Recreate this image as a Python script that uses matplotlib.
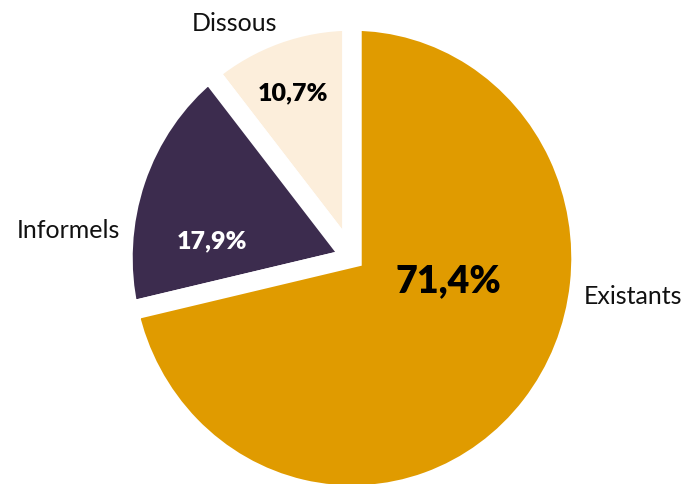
import matplotlib.pyplot as plt

# slices, drawn counter-clockwise from the top
labels = ["Dissous", "Informels", "Existants"]
values = [10.7, 17.9, 71.4]
pct_text = ["10,7%", "17,9%", "71,4%"]
colors = ["#FCEEDB", "#3C2C4E", "#E09B00"]
pct_colors = ["#000000", "#FFFFFF", "#000000"]

plt.rcParams['font.family'] = ['Lato', 'DejaVu Sans']

W, H = 697, 485
fig = plt.figure(figsize=(W / 100, H / 100), dpi=100)
ax = fig.add_axes([0, 0, 1, 1])

ax.pie(values, colors=colors, startangle=90, counterclock=True,
       radius=1.0,
       wedgeprops=dict(edgecolor="white", linewidth=14, joinstyle="miter"))

# pixel layout: pie centre at (352, 259) from top-left,
# the original is a touch taller than wide
cx, cy, ux, uy = 352, 259, 229, 237
ax.set_xlim(-cx / ux, (W - cx) / ux)
ax.set_ylim(-(H - cy) / uy, cy / uy)
ax.set_aspect("auto")
ax.axis("off")


def px(x, y):
    return (x - cx) / ux, (cy - y) / uy


# category names (x centre, baseline in pixels)
name_pos = [(234, 31), (68, 238), (633, 304)]
for name, (x, y) in zip(labels, name_pos):
    ax.text(*px(x, y), name, ha="center", va="baseline", fontsize=18,
            color="#111111")

# percentages inside the slices
pct_pos = [(293, 100), (212, 248), (448, 292)]
pct_size = [18, 18, 27]
for t, (x, y), c, s in zip(pct_text, pct_pos, pct_colors, pct_size):
    ax.text(*px(x, y), t, ha="center", va="baseline", fontsize=s,
            fontweight="heavy", color=c)

fig.savefig("out.png", dpi=100, facecolor="white")
